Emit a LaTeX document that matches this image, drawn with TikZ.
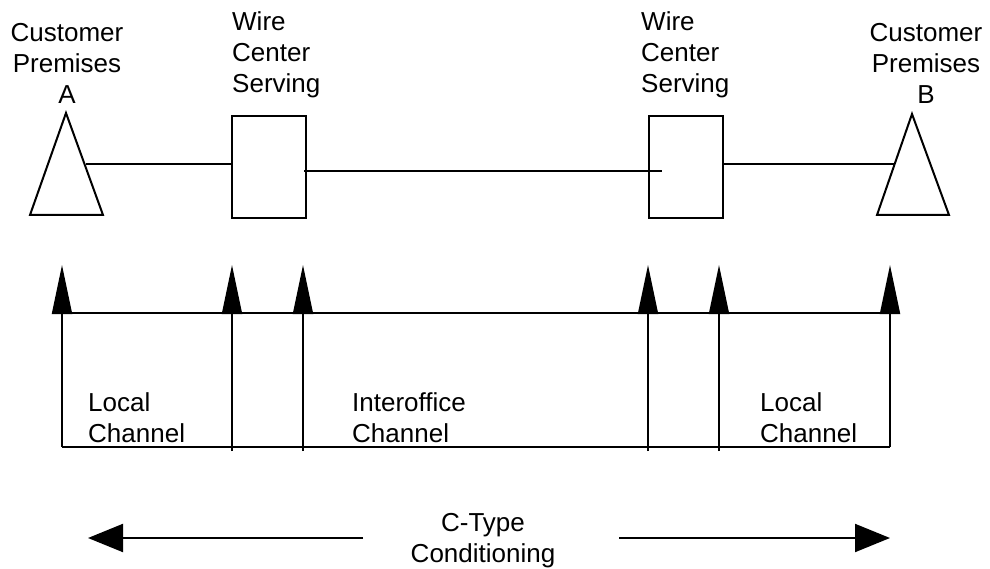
\documentclass[tikz,border=0pt]{standalone}
\usepackage{fontspec}
\setmainfont{Liberation Sans}
\usetikzlibrary{arrows.meta}

\begin{document}
\begin{tikzpicture}[
  x=1pt, y=-1pt,
  font=\fontsize{26}{31}\selectfont,
  lbl/.style={align=left, anchor=west, inner sep=0pt},
  ctrlbl/.style={align=center, inner sep=0pt},
  office/.style={draw, line width=2pt, minimum width=74pt, minimum height=102pt, inner sep=0pt},
  prem/.style={draw, line width=2pt, line join=miter},
  wire/.style={line width=2pt},
  upar/.style={line width=2pt, -{Triangle[length=49pt, width=20pt]}},
  sidear/.style={line width=2pt, -{Triangle[length=35pt, width=28pt]}}
]
\useasboundingbox (0,0) rectangle (990,569);

% premises and wire centers
\draw[prem] (66,113) coordinate (apexA) -- (103,215) -- (30,215) -- cycle;
\draw[prem] (912,114) coordinate (apexB) -- (949,215) -- (877,215) -- cycle;
\coordinate (premA) at (86,164);
\coordinate (premB) at (894,164);

\node[office] (wcA) at (269,167) {};
\node[office] (wcB) at (685.5,167) {};

\node[ctrlbl] (custA) at (67,63) {Customer\\Premises\\A};
\node[ctrlbl] (custB) at (926,63) {Customer\\Premises\\B};
\node[lbl] (wirA) at (232,55) {Wire\\Center\\Serving};
\node[lbl] (wirB) at (641,55) {Wire\\Center\\Serving};

\draw[wire] (premA) -- (wcA.west |- premA);
\draw[line width=1.4pt] ([xshift=-3pt]wcA.east |- 0,171) -- ([xshift=14pt]wcB.west |- 0,171);
\draw[wire] (wcB.east |- premB) -- (premB);

% channel markers
\coordinate (b1) at (62,447);   \coordinate (t1) at (62,265);
\coordinate (b2) at (232,451);  \coordinate (t2) at (232,265);
\coordinate (b3) at (303,451);  \coordinate (t3) at (303,265);
\coordinate (b4) at (648,451);  \coordinate (t4) at (648,265);
\coordinate (b5) at (719,451);  \coordinate (t5) at (719,265);
\coordinate (b6) at (890,447);  \coordinate (t6) at (890,265);

\draw[wire] (62,313) coordinate (h1) -- (890,313) coordinate (h6);
\draw[wire, line join=miter] (b1) -- (b6);
\draw[upar] (b1) -- (t1);
\draw[upar] (b2) -- (t2);
\draw[upar] (b3) -- (t3);
\draw[upar] (b4) -- (t4);
\draw[upar] (b5) -- (t5);
\draw[upar] (b6) -- (t6);

\node[lbl] (locA) at (88,418) {Local\\Channel};
\node[lbl] (inter) at (352,418) {Interoffice\\Channel};
\node[lbl] (locB) at (760,418) {Local\\Channel};

% conditioning
\node[ctrlbl] (cond) at (483,541) {C-Type\\Conditioning};
\coordinate (condL) at (88,538);
\coordinate (condR) at (890,538);
\draw[sidear] (363,538) -- (condL);
\draw[sidear] (619,538) -- (condR);

\end{tikzpicture}
\end{document}
